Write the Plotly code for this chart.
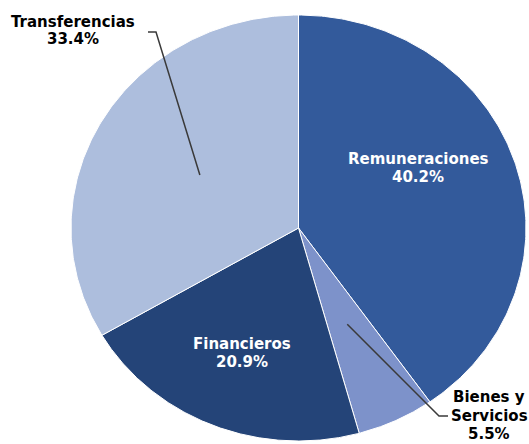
"""Pie chart of spending categories, drawn as filled polygons so it can be elliptical."""

import numpy as np
import plotly.graph_objects as go

categories = ["Remuneraciones", "Bienes y Servicios", "Financieros", "Transferencias"]
shares = [40.2, 5.5, 20.9, 33.4]
label_lines = [["Remuneraciones", "40.2%"], ["Bienes y", "Servicios", "5.5%"],
               ["Financieros", "20.9%"], ["Transferencias", "33.4%"]]
colors = ["#335A9B", "#7D92CA", "#244478", "#ADBEDD"]

W, H = 529, 444
CX, CY = 298.5, 228.0   # pie centre in pixels
RX, RY = 227.5, 213.0   # pixel radii (the original is slightly stretched)


def px_to_data(px, py):
    return (px - CX) / RX, (CY - py) / RY


def polar(angle_deg, r=1.0):
    a = np.radians(angle_deg)
    return r * np.sin(a), r * np.cos(a)


fig = go.Figure()

starts = np.concatenate([[0], np.cumsum(shares)[:-1]]) / 100 * 360
ends = np.cumsum(shares) / 100 * 360
for name, a0, a1, color in zip(categories, starts, ends, colors):
    ang = np.linspace(a0, a1, 200)
    xs, ys = polar(ang)
    fig.add_trace(go.Scatter(
        x=np.concatenate([[0], xs, [0]]),
        y=np.concatenate([[0], ys, [0]]),
        mode="lines", fill="toself", fillcolor=color,
        line={"color": "white", "width": 1},
        name=name, hoverinfo="name",
    ))

# leader lines for the labels placed outside the pie
leaders = {
    3: [(156, 32), (148, 32)],
    1: [(439, 416), (448, 416)],
}
for idx, pts in leaders.items():
    mid = (starts[idx] + ends[idx]) / 2
    x0, y0 = polar(mid, 0.5)
    xs = [x0] + [px_to_data(*p)[0] for p in pts]
    ys = [y0] + [px_to_data(*p)[1] for p in pts]
    fig.add_trace(go.Scatter(x=xs, y=ys, mode="lines",
                             line={"color": "#3A3A3A", "width": 1.5},
                             hoverinfo="skip"))

# (x centre, y centre of each line) in pixels
label_pos = [(418, [159, 177]), (489, [397, 416, 434]),
             (242, [344, 362]), (73, [22, 39])]
label_color = ["white", "black", "white", "black"]
for lines, (px, ys), c in zip(label_lines, label_pos, label_color):
    for text, py in zip(lines, ys):
        fig.add_annotation(
            x=px / W, y=1 - py / H, xref="paper", yref="paper",
            text=f"<b>{text}</b>", showarrow=False,
            font={"family": "DejaVu Sans", "size": 15, "color": c},
            xanchor="center", yanchor="middle",
        )

fig.update_xaxes(range=[-CX / RX, (W - CX) / RX], visible=False, fixedrange=True)
fig.update_yaxes(range=[-(H - CY) / RY, CY / RY], visible=False, fixedrange=True)
fig.update_layout(
    width=W, height=H,
    margin={"l": 0, "r": 0, "t": 0, "b": 0},
    showlegend=False,
    plot_bgcolor="white", paper_bgcolor="white",
)

fig.write_html("out.html", post_script="document.body.style.margin='0';",
               config={"displayModeBar": False})
